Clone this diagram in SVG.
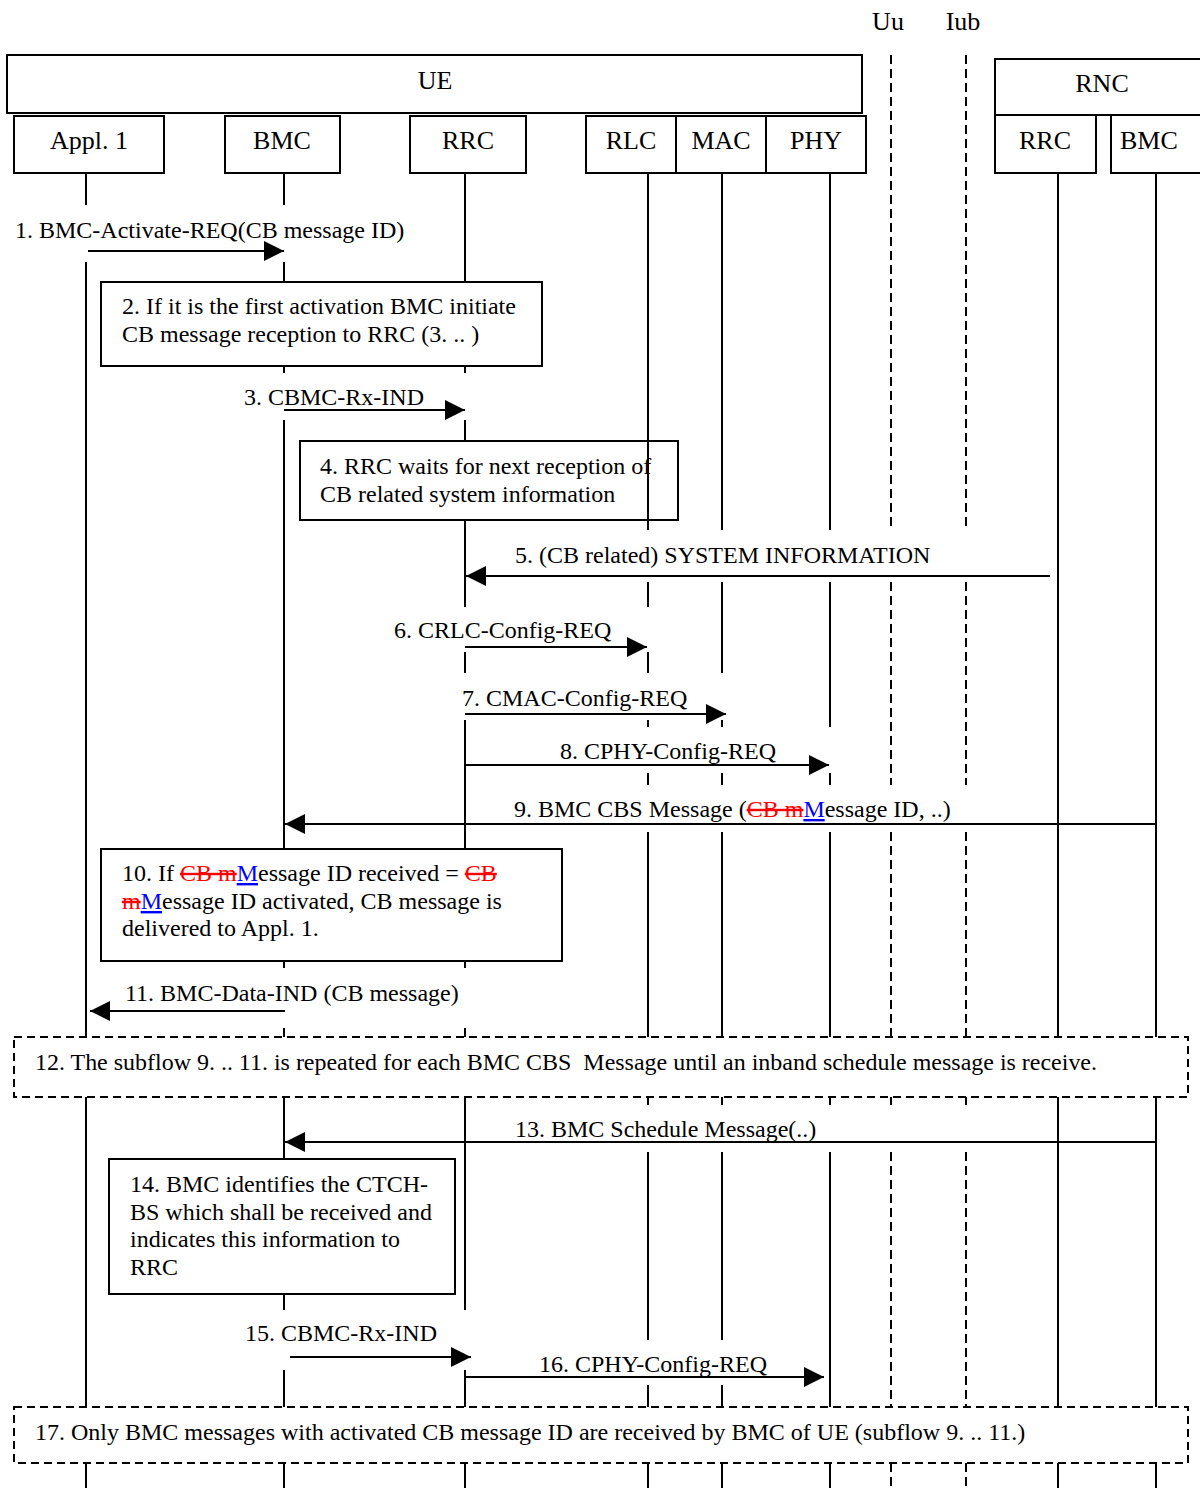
<svg xmlns="http://www.w3.org/2000/svg" width="1200" height="1488" viewBox="0 0 1200 1488">
<style>
text{font-family:"Liberation Serif","Times New Roman",serif;font-size:24px;fill:#000}
.c{text-anchor:middle}
.h{font-size:26px}
.box{fill:#fff;stroke:#000;stroke-width:2}
.dbox{fill:#fff;stroke:#000;stroke-width:2;stroke-dasharray:8 5}
.ll{stroke:#000;stroke-width:2;fill:none}
.dl{stroke:#000;stroke-width:2;fill:none;stroke-dasharray:9 5}
.ar{stroke:#000;stroke-width:2;fill:none;marker-end:url(#ah)}
.del{fill:#ff0000;text-decoration:line-through}
.ins{fill:#0000ff;text-decoration:underline}
</style>
<defs>
<marker id="ah" markerUnits="userSpaceOnUse" markerWidth="20" markerHeight="20" refX="20" refY="10" orient="auto">
<path d="M0,0 L20,10 L0,20 Z" fill="#000"/>
</marker>
</defs>
<rect width="1200" height="1488" fill="#fff"/>

<g id="interfaces">
<text x="888" y="30" class="c h">Uu</text>
<text x="963" y="30" class="c h">Iub</text>
</g>

<g id="lifelines">
<path class="ll" d="M86,173V205 M86,262V1037 M86,1097V1407 M86,1463V1488"/>
<path class="ll" d="M284,173V205 M284,262V282 M284,366V373 M284,420V849 M284,961V968 M284,1028V1037 M284,1097V1159 M284,1294V1310 M284,1370V1407 M284,1463V1488"/>
<path class="ll" d="M465,173V282 M465,366V373 M465,420V441 M465,520V607 M465,652V673 M465,720V849 M465,961V968 M465,1028V1037 M465,1097V1310 M465,1370V1407 M465,1463V1488"/>
<path class="ll" d="M722,173V530 M722,582V673 M722,720V727 M722,773V785 M722,832V1037 M722,1097V1105 M722,1152V1340 M722,1385V1407 M722,1463V1488"/>
<path class="ll" d="M830,173V530 M830,582V727 M830,773V785 M830,832V1037 M830,1097V1105 M830,1152V1407 M830,1463V1488"/>
<path class="dl" d="M891,55V530 M891,582V785 M891,832V1037 M891,1097V1105 M891,1152V1407 M891,1463V1488"/>
<path class="dl" d="M966,55V530 M966,582V785 M966,832V1037 M966,1097V1105 M966,1152V1407 M966,1463V1488"/>
<path class="ll" d="M1058,173V1037 M1058,1097V1407 M1058,1463V1488"/>
<path class="ll" d="M1156,168V1037 M1156,1097V1407 M1156,1463V1488"/>
</g>

<g id="UE">
<rect class="box" x="7" y="55" width="855" height="58" stroke-width="2.5"/>
<text x="435" y="89" class="c h">UE</text>
</g>
<g id="RNC">
<rect class="box" x="995" y="59" width="215" height="56"/>
<text x="1102" y="92" class="c h">RNC</text>
</g>
<g id="UE-Appl1">
<rect class="box" x="14" y="116" width="150" height="57"/>
<text x="89" y="149" class="c h">Appl. 1</text>
</g>
<g id="UE-BMC">
<rect class="box" x="225" y="116" width="115" height="57"/>
<text x="282" y="149" class="c h">BMC</text>
</g>
<g id="UE-RRC">
<rect class="box" x="410" y="116" width="116" height="57"/>
<text x="468" y="149" class="c h">RRC</text>
</g>
<g id="UE-RLC">
<rect class="box" x="586" y="116" width="90" height="57"/>
<text x="631" y="149" class="c h">RLC</text>
</g>
<g id="UE-MAC">
<rect class="box" x="676" y="116" width="90" height="57"/>
<text x="721" y="149" class="c h">MAC</text>
</g>
<g id="UE-PHY">
<rect class="box" x="766" y="116" width="100" height="57"/>
<text x="816" y="149" class="c h">PHY</text>
</g>
<g id="RNC-RRC">
<rect class="box" x="995" y="115" width="101" height="58"/>
<text x="1045" y="149" class="c h">RRC</text>
</g>
<g id="RNC-BMC">
<rect class="box" x="1111" y="115" width="99" height="58"/>
<text x="1120" y="149" class="h">BMC</text>
</g>

<g id="note2">
<rect class="box" x="101" y="282" width="441" height="84"/>
<text x="122" y="314">2. If it is the first activation BMC initiate</text>
<text x="122" y="342">CB message reception to RRC (3. .. )</text>
</g>
<g id="note4">
<rect class="box" x="300" y="441" width="378" height="79"/>
<text x="320" y="474">4. RRC waits for next reception of</text>
<text x="320" y="502">CB related system information</text>
<path class="ll" d="M648,441V520"/>
</g>
<g id="lifeline-RLC-rest">
<path class="ll" d="M648,173V441 M648,520V530 M648,582V607 M648,652V673 M648,720V727 M648,773V785 M648,832V1037 M648,1097V1105 M648,1152V1340 M648,1385V1407 M648,1463V1488"/>
</g>
<g id="note10">
<rect class="box" x="101" y="849" width="461" height="112"/>
<text x="122" y="881">10. If <tspan class="del">CB m</tspan><tspan class="ins">M</tspan>essage ID received = <tspan class="del">CB</tspan></text>
<text x="122" y="909"><tspan class="del">m</tspan><tspan class="ins">M</tspan>essage ID activated, CB message is</text>
<text x="122" y="936">delivered to Appl. 1.</text>
</g>
<g id="note12">
<rect class="dbox" x="14" y="1037" width="1174" height="60"/>
<text x="35" y="1070" xml:space="preserve" textLength="1062" lengthAdjust="spacingAndGlyphs">12. The subflow 9. .. 11. is repeated for each BMC CBS  Message until an inband schedule message is receive.</text>
</g>
<g id="note14">
<rect class="box" x="109" y="1159" width="346" height="135"/>
<text x="130" y="1192">14. BMC identifies the CTCH-</text>
<text x="130" y="1220">BS which shall be received and</text>
<text x="130" y="1247">indicates this information to</text>
<text x="130" y="1275">RRC</text>
</g>
<g id="note17">
<rect class="dbox" x="14" y="1407" width="1174" height="56"/>
<text x="35" y="1440">17. Only BMC messages with activated CB message ID are received by BMC of UE (subflow 9. .. 11.)</text>
</g>

<g id="connectors">
<line class="ar" x1="88" y1="251" x2="284" y2="251"/>
<line class="ar" x1="284" y1="410" x2="465" y2="410"/>
<line class="ar" x1="1050" y1="576" x2="466" y2="576"/>
<line class="ar" x1="465" y1="647" x2="647" y2="647"/>
<line class="ar" x1="465" y1="714" x2="726" y2="714"/>
<line class="ar" x1="466" y1="765" x2="829" y2="765"/>
<line class="ar" x1="1156" y1="824" x2="285" y2="824"/>
<line class="ar" x1="285" y1="1011" x2="90" y2="1011"/>
<line class="ar" x1="1156" y1="1142" x2="285" y2="1142"/>
<line class="ar" x1="290" y1="1357" x2="471" y2="1357"/>
<line class="ar" x1="466" y1="1377" x2="824" y2="1377"/>
</g>

<g id="labels">
<text x="15" y="238">1. BMC-Activate-REQ(CB message ID)</text>
<text x="244" y="405">3. CBMC-Rx-IND</text>
<text x="515" y="563">5. (CB related) SYSTEM INFORMATION</text>
<text x="394" y="638">6. CRLC-Config-REQ</text>
<text x="462" y="706">7. CMAC-Config-REQ</text>
<text x="560" y="759">8. CPHY-Config-REQ</text>
<text x="514" y="817">9. BMC CBS Message (<tspan class="del">CB m</tspan><tspan class="ins">M</tspan>essage ID, ..)</text>
<text x="125" y="1001">11. BMC-Data-IND (CB message)</text>
<text x="515" y="1137">13. BMC Schedule Message(..)</text>
<text x="245" y="1341">15. CBMC-Rx-IND</text>
<text x="539" y="1372">16. CPHY-Config-REQ</text>
</g>
</svg>
